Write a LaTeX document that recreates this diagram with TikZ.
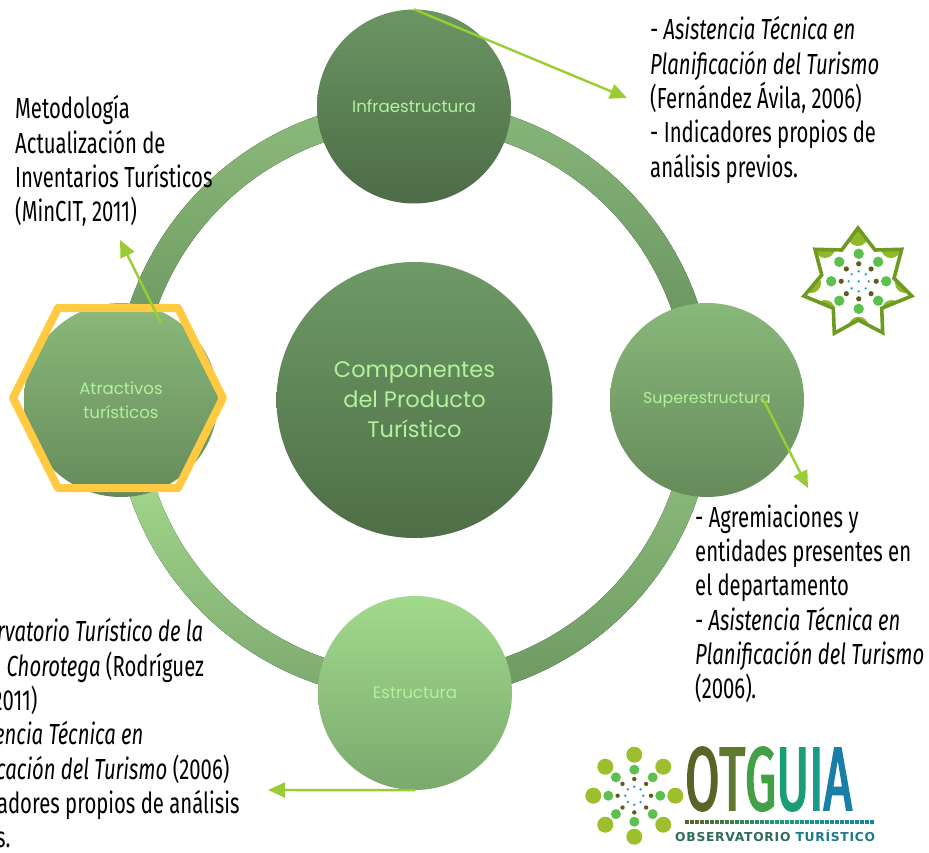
\documentclass[tikz,border=0pt]{standalone}
\usepackage{fontspec}
\usetikzlibrary{arrows.meta,calc}
\setmainfont{Fira Sans}
\newfontfamily\condfont[FakeStretch=0.70]{Fira Sans}
\newfontfamily\roundfont{Poppins}
\newfontfamily\logofont[FakeStretch=0.55,LetterSpace=1.5,FakeBold=2]{Fira Sans}
\newfontfamily\subfont[LetterSpace=6]{DejaVu Sans}
\definecolor{arrowgreen}{HTML}{9ACD32}
\definecolor{labelgreen}{HTML}{B2F29C}
\definecolor{hexyellow}{HTML}{FFCA42}
\definecolor{ringA}{HTML}{86B579}
\definecolor{ringB}{HTML}{6A9560}
\definecolor{ringC}{HTML}{8ABA7A}
\definecolor{ringD}{HTML}{6E9A62}
\definecolor{ringE}{HTML}{A2D88C}
\definecolor{ringF}{HTML}{7EAA70}
\definecolor{cenT}{HTML}{6E9A66}
\definecolor{cenB}{HTML}{4F6E47}
\definecolor{infT}{HTML}{6B9563}
\definecolor{infB}{HTML}{4D6B47}
\definecolor{supT}{HTML}{88B87A}
\definecolor{supB}{HTML}{668A5B}
\definecolor{estT}{HTML}{A2DA8C}
\definecolor{estB}{HTML}{7BA96E}
\definecolor{starTip}{HTML}{8FB82A}
\definecolor{starLine}{HTML}{6F9A22}
\definecolor{dotGreen}{HTML}{5CC04F}
\definecolor{dotDark}{HTML}{5A5F20}
\definecolor{dotBlue}{HTML}{2F9FC0}
\definecolor{logoOlive}{HTML}{9DBF2E}
\definecolor{logoO}{HTML}{5A6428}
\definecolor{logoT}{HTML}{5F7A2E}
\definecolor{logoG}{HTML}{43A047}
\definecolor{logoU}{HTML}{1A9E78}
\definecolor{logoI}{HTML}{1A9A8A}
\definecolor{logoA}{HTML}{1A7FA8}
\definecolor{subA}{HTML}{2F6B5A}
\definecolor{subB}{HTML}{1A7A8A}
\tikzset{
  x=1pt,y=-1pt,
  disc/.style={circle,minimum size=194pt,inner sep=0pt,align=center,text=labelgreen,
    font=\roundfont\fontsize{16.6}{24}\selectfont},
  bodytext/.style={anchor=north west,align=left,inner sep=0pt,text=black,
    font=\condfont\fontsize{29}{34.3}\selectfont},
  pointer/.style={draw=arrowgreen,line width=2.4pt,-{Triangle[length=17pt,width=15pt]}},
}
\newcommand{\ringpiece}[4]{%
  \fill[top color=#3,bottom color=#4] ($(ringc)+(#1:300pt)$) arc[start angle=#1,end angle=#2,radius=300pt]
    -- ($(ringc)+(#2:273pt)$) arc[start angle=#2,end angle=#1,radius=273pt] -- cycle;}
\begin{document}
\begin{tikzpicture}
\useasboundingbox (0,0) rectangle (929,852);
\clip (0,0) rectangle (929,852);
\fill[white] (0,0) rectangle (929,852);
\coordinate (ringc) at (414,400);
% ring
\ringpiece{15}{75}{ringA}{ringB}
\ringpiece{-75}{-15}{ringC}{ringD}
\ringpiece{195}{255}{ringE}{ringF}
\ringpiece{105}{165}{ringC}{ringD}
% discs
\node[disc,minimum size=276pt,top color=cenT,bottom color=cenB,font=\roundfont\fontsize{22.5}{30}\selectfont] (centre) at (414.5,400) {Componentes\\del Producto\\Turístico};
\node[disc,top color=infT,bottom color=infB] (infra) at (414,106.5) {Infraestructura};
\node[disc,top color=supT,bottom color=supB,font=\roundfont\fontsize{15.8}{24}\selectfont] (super) at (707,400) {Superestructura};
\node[disc,top color=estT,bottom color=estB] (estr) at (415,693) {Estructura};
\node[disc,top color=ringC,bottom color=supB] (atr) at (121,400) {Atractivos\\turísticos};
% highlight hexagon
\draw[hexyellow,line width=8pt,line join=round] (58,308) -- (178,308) -- (223,398) -- (178,488) -- (58,488) -- (13,398) -- cycle;
% texts
\node[bodytext] (t1) at (650,16.5) {\textit{- Asistencia Técnica en}\\\textit{Planificación del Turismo}\\(Fernández Ávila, 2006)\\- Indicadores propios de\\análisis previos.};
\node[bodytext] (t2) at (15,95.5) {Metodología\\Actualización de\\Inventarios Turísticos\\(MinCIT, 2011)};
\node[bodytext] (t3) at (695,504.5) {- Agremiaciones y\\entidades presentes en\\el departamento\\\textit{- Asistencia Técnica en}\\\textit{Planificación del Turismo}\\(2006)\textit{.}};
\node[bodytext] (t4) at (-62,618.5) {\textit{- Observatorio Turístico de la}\\\textit{Región Chorotega} (Rodríguez\\Ávila, 2011)\\\textit{- Asistencia Técnica en}\\\textit{Planificación del Turismo} (2006)\\- Indicadores propios de análisis\\previos.};
% arrow ends
\coordinate (a1) at (627,98);
\coordinate (s2) at (762,397);
\coordinate (a2) at (808,488);
\coordinate (a3) at (268,790);
\coordinate (s4) at (161,323);
\coordinate (a4) at (120,240);
\draw[pointer] (infra.north) -- (a1);
\draw[pointer] (s2) -- (a2);
\draw[pointer] (estr.south) -- (a3);
\draw[pointer] (s4) -- (a4);
% star emblem
\begin{scope}
\clip (858,228) -- (875,250) -- (901.7,249.3) -- (894,278.3) -- (911.7,296) -- (881.7,308.3) -- (882.7,332.7) -- (858.3,320) -- (834.3,333.3) -- (833.3,308.3) -- (804,296) -- (821.7,275) -- (815,249.3) -- (841.7,250) -- cycle;
\foreach \p in {(858,236),(825,248),(891,248),(811,283),(905,283),(825,310),(891.7,310),(858.7,326.7)}
  \fill[starTip] \p circle[radius=10pt];
\end{scope}
\draw[starLine,line width=3.6pt,line join=miter] (858,228) -- (875,250) -- (901.7,249.3) -- (894,278.3) -- (911.7,296) -- (881.7,308.3) -- (882.7,332.7) -- (858.3,320) -- (834.3,333.3) -- (833.3,308.3) -- (804,296) -- (821.7,275) -- (815,249.3) -- (841.7,250) -- cycle;
\coordinate (sc) at (858.7,281.3);
\foreach \a in {0,45,...,315}{
  \fill[dotGreen] ($(sc)+(\a:27.5pt)$) circle[radius=5.2pt];
  \fill[dotDark] ($(sc)+(\a:17.5pt)$) circle[radius=2.6pt];
  \fill[dotBlue] ($(sc)+(\a:10pt)$) circle[radius=1.3pt];
}
\fill[dotBlue] (sc) circle[radius=1.3pt];
% logo
\coordinate (lc) at (634.3,795.7);
\foreach \a in {0,45,...,315}{
  \fill[logoOlive] ($(lc)+(\a:41pt)$) circle[radius=8pt];
  \fill[dotGreen] ($(lc)+(\a:26pt)$) circle[radius=5pt];
  \fill[dotDark] ($(lc)+(\a:16.7pt)$) circle[radius=2.2pt];
  \fill[dotBlue] ($(lc)+(\a:9pt)$) circle[radius=1.4pt];
}
\node[inner sep=0pt,anchor=base west,text depth=0pt,font=\logofont\fontsize{90}{90}\selectfont] (otguia) at (685,810)
  {\textcolor{logoO}{O}\textcolor{logoT}{T}\textcolor{logoG}{G}\textcolor{logoU}{U}\textcolor{logoI}{I}\textcolor{logoA}{A}};
\foreach \i in {0,...,37}{
  \pgfmathsetmacro{\m}{\i<19?100*\i/19:100*(\i-19)/19}
  \ifnum\i<19
    \fill[logoU!\m!logoO] ({685+\i*5},819.5) rectangle +(3.8,4.5);
  \else
    \fill[logoA!\m!logoU] ({685+\i*5},819.5) rectangle +(3.8,4.5);
  \fi
}
\node[inner sep=0pt,anchor=base west,text height=9pt,text depth=0pt,font=\subfont\bfseries\fontsize{12.3}{14}\selectfont] (obs) at (675,841)
  {\textcolor{subA}{OBSERVATORIO} \textcolor{subB}{TURÍSTICO}};
\end{tikzpicture}
\end{document}
